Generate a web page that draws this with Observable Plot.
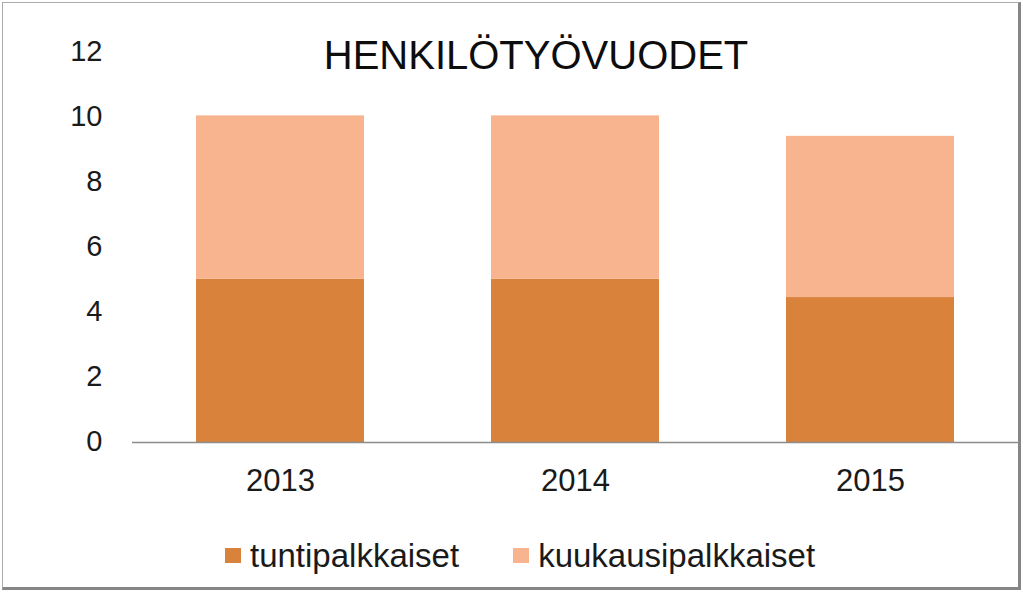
<!DOCTYPE html>
<html>
<head>
<meta charset="utf-8">
<script src="https://cdn.jsdelivr.net/npm/d3@7"></script>
<script src="https://cdn.jsdelivr.net/npm/@observablehq/plot@0.6"></script>
<style>
  html, body { margin: 0; padding: 0; background: #fff; }
  #wrap { position: relative; width: 1023px; height: 592px; overflow: hidden; font-family: "Liberation Sans", Arial, sans-serif; color: #1a1a1a; }
  #frame { position: absolute; left: 2px; top: 2px; width: 1019px; height: 588px; box-sizing: border-box;
           border-left: 1px solid #ababab; border-top: 1px solid #ababab;
           border-right: 3px solid #858585; border-bottom: 3px solid #858585; }
  #chart { position: absolute; left: 0; top: 0; }
  #title { position: absolute; left: 536px; top: 35px; transform: translateX(-50%); font-size: 40px; line-height: 1; white-space: nowrap; color: #0d0d0d; }
  #legend { position: absolute; left: 225px; top: 539px; height: 33px; display: flex; align-items: center; font-size: 33px; line-height: 1; white-space: nowrap; }
  .item { display: flex; align-items: center; }
  .sw { width: 16px; height: 15px; margin-right: 9px; }
</style>
</head>
<body>
<div id="wrap">
  <div id="frame"></div>
  <div id="chart"></div>
  <div id="title"></div>
  <div id="legend"></div>
</div>
<script>
const title = "HENKILÖTYÖVUODET";
const years = ["2013", "2014", "2015"];
const groups = ["tuntipalkkaiset", "kuukausipalkkaiset"];
const colors = ["#D9823C", "#F8B38F"];
const tunti = [5.02, 5.02, 4.46];
const kuukausi = [5.03, 5.03, 4.96];
const yTicks = [0, 2, 4, 6, 8, 10, 12];

const series = [tunti, kuukausi];
const table = years.flatMap((yr, i) => groups.map((g, j) => ({year: yr, group: g, value: series[j][i]})));

const plot = Plot.plot({
  width: 1023,
  height: 500,
  marginLeft: 132,
  marginRight: 4,
  marginTop: 52,
  marginBottom: 58,
  style: {background: "transparent", fontFamily: "'Liberation Sans', Arial, sans-serif", color: "#1a1a1a"},
  x: {domain: years, paddingInner: 0.43, paddingOuter: 0.215, axis: null, label: null},
  y: {domain: [0, 12], axis: null, label: null},
  color: {domain: groups, range: colors},
  marks: [
    Plot.barY(table, {x: "year", y: "value", fill: "group", order: groups}),
    Plot.ruleY([0], {stroke: "#8c8c8c", strokeWidth: 1.3}),
    Plot.axisX({tickSize: 0, tickPadding: 26, fontSize: 31, label: null}),
    Plot.axisY({ticks: yTicks, tickSize: 0, tickPadding: 30, fontSize: 29, dy: -1, label: null})
  ]
});
document.getElementById("chart").appendChild(plot);

document.getElementById("title").textContent = title;

const legend = document.getElementById("legend");
groups.forEach((g, i) => {
  const item = document.createElement("div");
  item.className = "item";
  if (i > 0) item.style.marginLeft = "54px";
  const sw = document.createElement("span");
  sw.className = "sw";
  sw.style.background = colors[i];
  const t = document.createElement("span");
  t.textContent = g;
  item.appendChild(sw);
  item.appendChild(t);
  legend.appendChild(item);
});
</script>
</body>
</html>
